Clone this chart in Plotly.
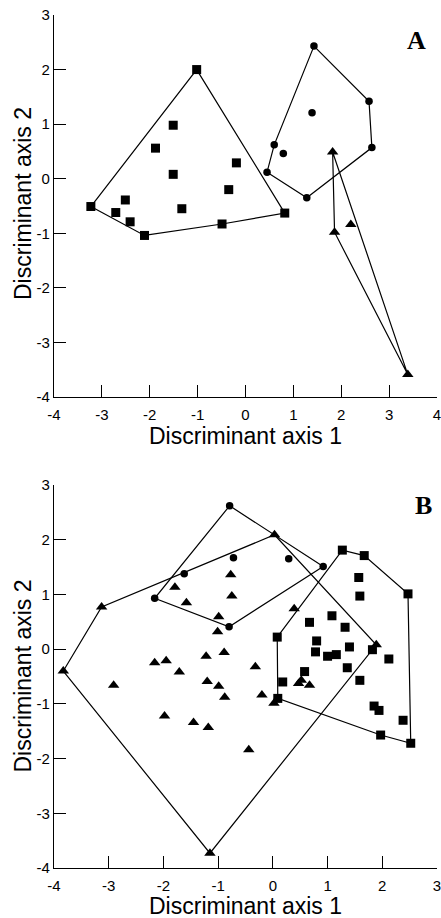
import plotly.graph_objects as go

# ---------------- Panel A data ----------------
a_sq_hull_x = [-3.23, -1.02, 0.82, -0.49, -2.11]
a_sq_hull_y = [-0.51, 2.00, -0.63, -0.83, -1.04]
a_sq_in_x = [-2.41, -2.71, -2.51, -1.51, -1.88, -1.51, -1.33, -0.35, -0.19]
a_sq_in_y = [-0.79, -0.62, -0.39, 0.98, 0.56, 0.08, -0.55, -0.20, 0.29]

a_ci_hull_x = [1.43, 2.58, 2.64, 1.28, 0.45, 0.60]
a_ci_hull_y = [2.43, 1.42, 0.57, -0.35, 0.12, 0.62]
a_ci_in_x = [1.39, 0.79]
a_ci_in_y = [1.21, 0.46]

a_tr_hull_x = [1.82, 3.39, 1.86]
a_tr_hull_y = [0.49, -3.59, -0.98]
a_tr_in_x = [2.20]
a_tr_in_y = [-0.84]

# ---------------- Panel B data ----------------
b_ci_hull_x = [-0.79, 0.92, -0.80, -2.16]
b_ci_hull_y = [2.62, 1.51, 0.41, 0.93]
b_ci_in_x = [-0.72, 0.29, -1.62]
b_ci_in_y = [1.67, 1.65, 1.38]

b_tr_hull_x = [-3.83, -3.13, 0.03, 1.89, -1.15]
b_tr_hull_y = [-0.40, 0.77, 2.09, 0.08, -3.73]
b_tr_in_x = [-1.79, -1.58, -0.77, -0.75, -0.99, -1.01, 0.39, -2.16, -1.95, -1.71,
             -1.22, -0.89, -0.32, -2.91, -1.20, -0.99, -0.88, -0.20, 0.02, 0.47,
             0.52, 0.67, -1.98, -1.45, -1.18, -0.44]
b_tr_in_y = [1.13, 0.85, 1.36, 0.97, 0.59, 0.32, 0.74, -0.25, -0.21, -0.42,
             -0.13, -0.06, -0.32, -0.66, -0.59, -0.68, -0.88, -0.84, -0.99, -0.63,
             -0.57, -0.66, -1.22, -1.34, -1.43, -1.84]

b_sq_hull_x = [0.08, 1.27, 1.67, 2.47, 2.52, 1.97, 0.09]
b_sq_hull_y = [0.22, 1.81, 1.71, 1.01, -1.72, -1.57, -0.90]
b_sq_in_x = [1.57, 1.59, 0.67, 1.08, 1.32, 0.80, 0.78, 1.00, 1.16, 1.40,
             1.36, 1.82, 2.12, 0.58, 0.18, 1.59, 1.85, 1.94, 2.38]
b_sq_in_y = [1.31, 0.97, 0.49, 0.61, 0.40, 0.15, -0.05, -0.13, -0.10, 0.04,
             -0.34, -0.01, -0.18, -0.41, -0.60, -0.57, -1.04, -1.12, -1.30]

x_ticks_a = [-4, -3, -2, -1, 0, 1, 2, 3, 4]
x_ticks_b = [-4, -3, -2, -1, 0, 1, 2, 3]
y_ticks = [-4, -3, -2, -1, 0, 1, 2, 3]
x_tick_labels_a = ["-4", "-3", "-2", "-1", "0", "1", "2", "3", "4"]
x_tick_labels_b = ["-4", "-3", "-2", "-1", "0", "1", "2", "3"]
y_tick_labels = ["-4", "-3", "-2", "-1", "0", "1", "2", "3"]
panel_labels = ["A", "B"]
x_title = "Discriminant axis 1"
y_title = "Discriminant axis 2"

fig = go.Figure()

SYMS = {"sq": ("square", 9), "ci": ("circle", 7.5), "tr": ("triangle-up", 10)}


def add_group(hx, hy, ix, iy, kind, xa, ya):
    sym, size = SYMS[kind]
    fig.add_trace(go.Scatter(
        x=hx + [hx[0]], y=hy + [hy[0]], mode="lines",
        line=dict(color="black", width=1.2),
        xaxis=xa, yaxis=ya, showlegend=False, hoverinfo="skip", cliponaxis=False))
    fig.add_trace(go.Scatter(
        x=hx + ix, y=hy + iy, mode="markers",
        marker=dict(symbol=sym, size=size, color="black", line=dict(width=0)),
        xaxis=xa, yaxis=ya, showlegend=False, cliponaxis=False))


add_group(a_sq_hull_x, a_sq_hull_y, a_sq_in_x, a_sq_in_y, "sq", "x", "y")
add_group(a_ci_hull_x, a_ci_hull_y, a_ci_in_x, a_ci_in_y, "ci", "x", "y")
add_group(a_tr_hull_x, a_tr_hull_y, a_tr_in_x, a_tr_in_y, "tr", "x", "y")

add_group(b_ci_hull_x, b_ci_hull_y, b_ci_in_x, b_ci_in_y, "ci", "x2", "y2")
add_group(b_tr_hull_x, b_tr_hull_y, b_tr_in_x, b_tr_in_y, "tr", "x2", "y2")
add_group(b_sq_hull_x, b_sq_hull_y, b_sq_in_x, b_sq_in_y, "sq", "x2", "y2")

FONT = "Liberation Sans, Arial"
tick_font = dict(family=FONT, size=15, color="black")
title_font = dict(family=FONT, size=23, color="black")
label_font = dict(family="Liberation Serif, Times New Roman", size=26, color="black")

common = dict(showline=True, linecolor="black", linewidth=1.2, ticks="inside",
              ticklen=12, tickwidth=1.2, tickcolor="black", showgrid=False,
              zeroline=False, tickfont=tick_font, fixedrange=True,
              automargin=False, ticklabeloverflow="allow", tickmode="array")

fig.update_layout(
    width=441, height=918,
    margin=dict(l=54, r=4, t=15, b=50),
    paper_bgcolor="white", plot_bgcolor="white",
    xaxis=dict(domain=[0, 1], range=[-4, 4], tickvals=x_ticks_a,
               ticktext=x_tick_labels_a, anchor="y", ticklabelstandoff=4, **common),
    yaxis=dict(domain=[0.5522, 1], range=[-4, 3], tickvals=y_ticks,
               ticktext=y_tick_labels, anchor="x", **common),
    xaxis2=dict(domain=[0, 1], range=[-4, 3], tickvals=x_ticks_b,
                ticktext=x_tick_labels_b, anchor="y2", ticklabelstandoff=4, **common),
    yaxis2=dict(domain=[0, 0.4490], range=[-4, 3], tickvals=y_ticks,
                ticktext=y_tick_labels, anchor="x2", **common),
    annotations=[
        dict(text=x_title, x=0.5, y=-0.102, xref="x domain", yref="y domain",
             xanchor="center", yanchor="middle", showarrow=False, font=title_font),
        dict(text=x_title, x=0.5, y=-0.099, xref="x2 domain", yref="y2 domain",
             xanchor="center", yanchor="middle", showarrow=False, font=title_font),
        dict(text=y_title, x=0, y=0.5, xref="x domain", yref="y domain",
             xanchor="center", yanchor="middle", xshift=-31, yshift=2,
             textangle=-90, showarrow=False, font=title_font),
        dict(text=y_title, x=0, y=0.5, xref="x2 domain", yref="y2 domain",
             xanchor="center", yanchor="middle", xshift=-31,
             textangle=-90, showarrow=False, font=title_font),
        dict(text="<b>%s</b>" % panel_labels[0], x=3.58, y=2.53, xref="x", yref="y",
             showarrow=False, font=label_font),
        dict(text="<b>%s</b>" % panel_labels[1], x=2.76, y=2.63, xref="x2", yref="y2",
             showarrow=False, font=label_font),
    ],
)

# remove the browser's default 8px body margin so the figure fills the window
fig.write_html("out.html", config={"displayModeBar": False},
               post_script="document.body.style.margin='0px';"
                           "document.body.style.overflow='hidden';")
